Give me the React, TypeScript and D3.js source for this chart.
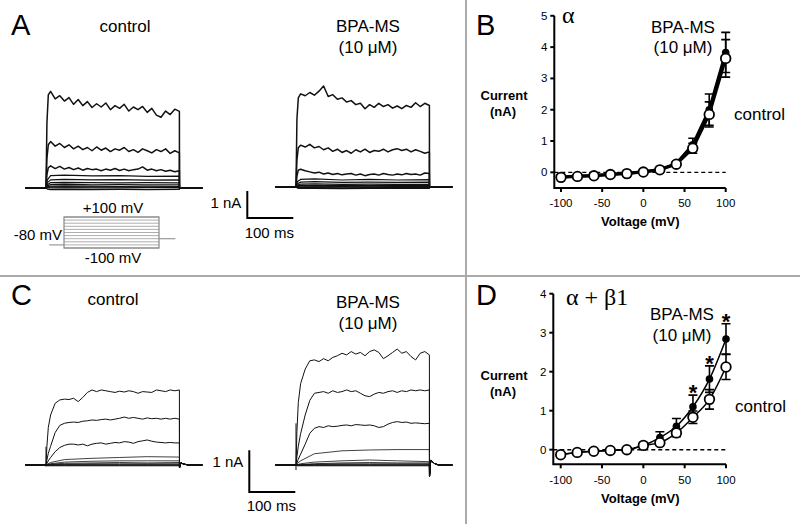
import React from 'react';
import * as d3 from 'd3';

const W = 800;
const H = 524;
const SANS = '"Liberation Sans", Arial, sans-serif';
const SERIF = '"Liberation Serif", "Times New Roman", serif';

// ---- I-V data (panels B and D) ----
const voltages = [-100, -80, -60, -40, -20, 0, 20, 40, 60, 80, 100];
const xTicks = [-100, -50, 0, 50, 100];

const bCtrlMean = [-0.16, -0.13, -0.11, -0.07, -0.04, 0.01, 0.08, 0.26, 0.77, 1.85, 3.64];
const bCtrlSem = [0.02, 0.02, 0.02, 0.02, 0.02, 0.02, 0.03, 0.05, 0.16, 0.4, 0.6];
const bBpaMean = [-0.15, -0.12, -0.1, -0.06, -0.03, 0.02, 0.09, 0.28, 0.88, 2.0, 3.83];
const bBpaSem = [0.02, 0.02, 0.02, 0.02, 0.02, 0.02, 0.03, 0.05, 0.21, 0.5, 0.64];
const bYTicks = [0, 1, 2, 3, 4, 5];

const dCtrlMean = [-0.13, -0.07, -0.04, -0.02, 0, 0.11, 0.18, 0.43, 0.83, 1.29, 2.12];
const dCtrlSem = [0.02, 0.02, 0.02, 0.02, 0.02, 0.03, 0.05, 0.1, 0.16, 0.25, 0.32];
const dBpaMean = [-0.12, -0.07, -0.04, -0.02, 0, 0.11, 0.31, 0.6, 1.1, 1.81, 2.84];
const dBpaSem = [0.02, 0.02, 0.02, 0.02, 0.02, 0.03, 0.15, 0.2, 0.3, 0.34, 0.39];
const dYTicks = [0, 1, 2, 3, 4];
const dStars = [60, 80, 100];

// ---- current traces (panels A and C), nA vs ms ----
const tFine = [0, 2, 5, 10, 20, 30, 40, 50, 60, 70, 80, 90, 100, 110, 120, 130, 140, 150, 160, 170, 180, 190, 200, 210, 220, 230, 240, 250, 260, 270, 280, 290];
const tCoarse = [0, 3, 10, 40, 100, 160, 220, 290];
const tTail = [290.2, 293, 300, 310];
const tStart = -45;
const tStop = 340;

// A control: +100, +80, +60 mV
const aCtrlFine = [
  [0, 2.4, 3.45, 3.58, 3.3, 3.42, 3.22, 3.35, 3.1, 3.28, 3.05, 3.2, 2.98, 3.12, 3.0, 3.15, 2.9, 3.05, 2.95, 3.1, 2.85, 3.0, 2.9, 3.02, 2.8, 2.95, 2.7, 2.62, 2.85, 2.72, 2.92, 2.84],
  [0, 1.1, 1.6, 1.72, 1.55, 1.65, 1.5, 1.6, 1.45, 1.55, 1.42, 1.5, 1.38, 1.52, 1.4, 1.48, 1.35, 1.45, 1.4, 1.5, 1.35, 1.42, 1.32, 1.45, 1.38, 1.3, 1.42, 1.35, 1.45, 1.28, 1.38, 1.3],
  [0, 0.5, 0.75, 0.82, 0.72, 0.8, 0.7, 0.76, 0.68, 0.74, 0.66, 0.72, 0.68, 0.7, 0.64, 0.7, 0.66, 0.72, 0.65, 0.7, 0.64, 0.68, 0.7, 0.78, 0.66, 0.7, 0.64, 0.68, 0.62, 0.66, 0.6, 0.64],
];
// A control: +40 ... -100 mV
const aCtrlCoarse = [
  [0, 0.3, 0.46, 0.48, 0.45, 0.46, 0.43, 0.44],
  [0, 0.2, 0.3, 0.32, 0.3, 0.31, 0.29, 0.3],
  [0, 0.12, 0.2, 0.21, 0.2, 0.19, 0.2, 0.19],
  [0, 0.08, 0.13, 0.14, 0.12, 0.13, 0.12, 0.12],
  [0, 0.04, 0.07, 0.08, 0.07, 0.06, 0.07, 0.06],
  [0, 0.02, 0.03, 0.04, 0.03, 0.03, 0.02, 0.03],
  [0, 0, 0, 0.01, 0, 0, 0.01, 0],
  [0, -0.04, -0.06, -0.05, -0.06, -0.05, -0.06, -0.05],
];
const aBpaFine = [
  [0, 2.5, 3.3, 3.45, 3.38, 3.5, 3.4, 3.55, 3.74, 3.35, 3.42, 3.25, 3.3, 3.15, 3.2, 3.05, 3.1, 2.9, 3.05, 2.95, 3.1, 2.98, 3.05, 2.92, 3.0, 2.9, 3.02, 2.95, 3.12, 2.98, 3.1, 3.02],
  [0, 1.0, 1.45, 1.55, 1.48, 1.58, 1.45, 1.5, 1.38, 1.45, 1.32, 1.4, 1.28, 1.35, 1.25, 1.38, 1.3, 1.4, 1.28, 1.35, 1.32, 1.4, 1.3, 1.38, 1.42, 1.35, 1.4, 1.3, 1.38, 1.32, 1.25, 1.3],
  [0, 0.4, 0.62, 0.66, 0.6, 0.56, 0.52, 0.55, 0.48, 0.52, 0.46, 0.5, 0.45, 0.48, 0.5, 0.44, 0.48, 0.42, 0.46, 0.48, 0.44, 0.5, 0.46, 0.44, 0.48, 0.45, 0.5, 0.46, 0.48, 0.44, 0.52, 0.5],
];
const aBpaCoarse = [
  [0, 0.2, 0.28, 0.3, 0.26, 0.28, 0.26, 0.27],
  [0, 0.12, 0.18, 0.2, 0.17, 0.18, 0.17, 0.18],
  [0, 0.07, 0.11, 0.12, 0.1, 0.11, 0.1, 0.1],
  [0, 0.04, 0.06, 0.07, 0.06, 0.05, 0.06, 0.06],
  [0, 0.02, 0.03, 0.03, 0.02, 0.03, 0.02, 0.03],
  [0, 0, 0, 0.01, 0, 0, 0, 0],
  [0, -0.02, -0.02, -0.02, -0.03, -0.02, -0.02, -0.02],
  [0, -0.04, -0.05, -0.05, -0.06, -0.05, -0.05, -0.05],
];
const aTail = [0, 0, 0, 0];

const cCtrlFine = [
  [0, 0.45, 0.9, 1.2, 1.48, 1.56, 1.58, 1.57, 1.6, 1.52, 1.62, 1.74, 1.8, 1.76, 1.8, 1.78, 1.76, 1.74, 1.77, 1.75, 1.78, 1.76, 1.72, 1.76, 1.75, 1.74, 1.8, 1.78, 1.76, 1.8, 1.78, 1.8],
  [0, 0.12, 0.28, 0.45, 0.78, 0.95, 1.0, 1.02, 1.03, 1.02, 1.05, 1.06, 1.08, 1.07, 1.09, 1.1, 1.08, 1.1, 1.12, 1.15, 1.12, 1.14, 1.12, 1.1, 1.13, 1.11, 1.12, 1.1, 1.12, 1.1, 1.12, 1.1],
  [0, 0.04, 0.1, 0.18, 0.32, 0.42, 0.47, 0.5, 0.5, 0.48, 0.5, 0.46, 0.5, 0.52, 0.53, 0.5, 0.52, 0.54, 0.53, 0.56, 0.55, 0.52, 0.56, 0.58, 0.6, 0.57, 0.55, 0.54, 0.53, 0.54, 0.53, 0.53],
];
const cCtrlCoarse = [
  [0, 0.02, 0.06, 0.13, 0.16, 0.18, 0.2, 0.19],
  [0, 0.01, 0.03, 0.07, 0.09, 0.1, 0.1, 0.1],
  [0, 0.01, 0.02, 0.04, 0.05, 0.06, 0.05, 0.06],
  [0, 0, 0.01, 0.02, 0.03, 0.03, 0.03, 0.03],
  [0, 0, 0, 0.01, 0.01, 0.01, 0.01, 0.01],
  [0, 0, 0, 0, 0, 0, 0, 0],
  [0, -0.01, -0.01, -0.01, -0.01, -0.01, -0.01, -0.01],
  [0, -0.02, -0.02, -0.02, -0.02, -0.02, -0.02, -0.02],
];
const cCtrlTail = [-0.07, 0.05, 0.02, 0];
const cCtrlSpike = [0.44, -0.04];

const cBpaFine = [
  [0, 0.8, 1.5, 1.95, 2.3, 2.5, 2.52, 2.48, 2.55, 2.5, 2.58, 2.62, 2.68, 2.64, 2.72, 2.66, 2.7, 2.62, 2.72, 2.76, 2.7, 2.55, 2.62, 2.7, 2.78, 2.68, 2.72, 2.6, 2.52, 2.68, 2.72, 2.64],
  [0, 0.2, 0.45, 0.75, 1.2, 1.55, 1.72, 1.74, 1.76, 1.72, 1.78, 1.74, 1.76, 1.8, 1.76, 1.78, 1.72, 1.66, 1.64, 1.7, 1.74, 1.72, 1.76, 1.78, 1.74, 1.78, 1.76, 1.8, 1.78, 1.8, 1.78, 1.8],
  [0, 0.05, 0.14, 0.26, 0.5, 0.76, 0.88, 0.92, 0.9, 0.94, 0.92, 0.93, 0.95, 0.96, 0.94, 0.97, 0.96, 0.95, 0.96, 0.94, 0.9, 0.92, 0.98, 1.02, 1.04, 1.02, 1.03, 1.0, 1.01, 1.0, 0.99, 1.0],
];
const cBpaCoarse = [
  [0, 0.04, 0.1, 0.27, 0.34, 0.36, 0.37, 0.37],
  [0, 0.01, 0.03, 0.07, 0.1, 0.12, 0.1, 0.08],
  [0, 0, 0.01, 0.03, 0.05, 0.06, 0.05, 0.05],
  [0, 0, 0, 0.02, 0.03, 0.03, 0.03, 0.03],
  [0, 0, 0, 0.01, 0.01, 0.01, 0.01, 0.01],
  [0, 0, 0, 0, 0, 0, 0, 0],
  [0, -0.01, -0.01, -0.01, -0.01, -0.01, -0.01, -0.01],
  [0, -0.02, -0.02, -0.02, -0.02, -0.02, -0.02, -0.02],
];
const cBpaTail = [-0.28, 0.12, 0.04, 0];
const cBpaSpike = [1.0, -0.12];

// voltage protocol
const holdV = -80;
const afterV = -40;

type Pt = [number, number];

function tracePoints(times: number[], vals: number[], tail: number[]): Pt[] {
  const pts: Pt[] = [[tStart, 0], [0, 0]];
  times.forEach((t, i) => pts.push([t, vals[i]]));
  tTail.forEach((t, i) => pts.push([t, tail[i]]));
  pts.push([tStop, 0]);
  return pts;
}

interface TraceProps {
  x0: number;
  y0: number;
  pxPerNA: number;
  fine: number[][];
  coarse: number[][];
  tail: number[];
  spike?: number[];
  width: number;
}

function Traces({ x0, y0, pxPerNA, fine, coarse, tail, spike, width }: TraceProps) {
  const x = d3.scaleLinear().domain([0, 100]).range([x0, x0 + 46]);
  const y = d3.scaleLinear().domain([0, 1]).range([y0, y0 - pxPerNA]);
  const line = d3.line<Pt>().x(d => x(d[0])).y(d => y(d[1]));
  return (
    <g fill="none" stroke="#111" strokeLinejoin="round">
      {coarse.map((v, i) => (
        <path key={'c' + i} d={line(tracePoints(tCoarse, v, tail)) || ''} strokeWidth={width * 0.8} />
      ))}
      {fine.map((v, i) => (
        <path key={'f' + i} d={line(tracePoints(tFine, v, tail)) || ''} strokeWidth={width} />
      ))}
      {spike && <line x1={x(0)} x2={x(0)} y1={y(spike[0])} y2={y(spike[1])} strokeWidth={width} />}
    </g>
  );
}

function ScaleBar({ x0, yTop, pxPerNA, labelDy }: { x0: number; yTop: number; pxPerNA: number; labelDy: number }) {
  const y = d3.scaleLinear().domain([1, 0]).range([yTop, yTop + pxPerNA]);
  const t = d3.scaleLinear().domain([0, 100]).range([x0, x0 + 46]);
  return (
    <g fontFamily={SANS} fontSize={15}>
      <path d={`M${t(0)},${y(1)}V${y(0)}H${t(100)}`} fill="none" stroke="#000" strokeWidth={2} />
      <text x={t(0) - 6} y={y(1) + 17} textAnchor="end">1 nA</text>
      <text x={(t(0) + t(100)) / 2 - 1} y={y(0) + labelDy} textAnchor="middle">100 ms</text>
    </g>
  );
}

interface IVProps {
  xRange: [number, number];
  yDomain: [number, number];
  yRange: [number, number];
  yAxisX: number;
  yTicks: number[];
  ctrl: number[];
  ctrlSem: number[];
  bpa: number[];
  bpaSem: number[];
  lineW: number;
  smooth: boolean;
  tickLabelDy: number;
  titleDy: number;
  stars?: number[];
}

function IVPanel(p: IVProps) {
  const x = d3.scaleLinear().domain([-100, 100]).range(p.xRange);
  const y = d3.scaleLinear().domain(p.yDomain).range(p.yRange);
  const axisY = y(p.yDomain[0]);
  const line = d3.line<number>()
    .x((_, i) => x(voltages[i]))
    .y(d => y(d))
    .curve(p.smooth ? d3.curveMonotoneX : d3.curveLinear);
  const cap = 4.5;
  const errBars = (m: number[], s: number[], key: string) => (
    <g key={key} stroke="#000" strokeWidth={1.6}>
      {m.map((v, i) => {
        const cx = x(voltages[i]);
        const hi = y(v + s[i]);
        const lo = y(v - s[i]);
        return (
          <path key={i} d={`M${cx},${hi}V${lo}M${cx - cap},${hi}H${cx + cap}M${cx - cap},${lo}H${cx + cap}`} fill="none" />
        );
      })}
    </g>
  );
  return (
    <g>
      {/* zero line */}
      <line x1={p.yAxisX} x2={x(100)} y1={y(0)} y2={y(0)} stroke="#000" strokeWidth={1.4} strokeDasharray="4,3" />
      {/* axes */}
      <g stroke="#000" strokeWidth={2} fill="none">
        <path d={`M${p.yAxisX},${y(p.yDomain[1])}V${axisY}H${x(100)}`} />
        {p.yTicks.map(t => (
          <line key={t} x1={p.yAxisX - 4} x2={p.yAxisX} y1={y(t)} y2={y(t)} />
        ))}
        {xTicks.map(t => (
          <line key={t} x1={x(t)} x2={x(t)} y1={axisY} y2={axisY + 4} />
        ))}
      </g>
      <g fontFamily={SANS} fontSize={11.5} fill="#000">
        {p.yTicks.map(t => (
          <text key={t} x={p.yAxisX - 7} y={y(t) + 4} textAnchor="end">{t}</text>
        ))}
        {xTicks.map(t => (
          <text key={t} x={x(t)} y={axisY + p.tickLabelDy} textAnchor="middle">{t}</text>
        ))}
      </g>
      <text x={(p.xRange[0] + p.xRange[1]) / 2 - 3} y={axisY + p.titleDy} textAnchor="middle" fontFamily={SANS} fontWeight="bold" fontSize={13}>Voltage (mV)</text>
      {errBars(p.bpa, p.bpaSem, 'eb')}
      {errBars(p.ctrl, p.ctrlSem, 'ec')}
      <path d={line(p.bpa) || ''} fill="none" stroke="#000" strokeWidth={p.lineW} />
      <path d={line(p.ctrl) || ''} fill="none" stroke="#000" strokeWidth={p.lineW} />
      {p.bpa.map((v, i) => (
        <circle key={'b' + i} cx={x(voltages[i])} cy={y(v)} r={3.8} fill="#000" />
      ))}
      {p.ctrl.map((v, i) => (
        <circle key={'o' + i} cx={x(voltages[i])} cy={y(v)} r={4.8} fill="#fff" stroke="#000" strokeWidth={1.8} />
      ))}
      {p.stars && p.stars.map(v => {
        const i = voltages.indexOf(v);
        return (
          <text key={v} x={x(v)} y={y(p.bpa[i] + p.bpaSem[i]) + 5} textAnchor="middle" fontFamily={SANS} fontWeight="bold" fontSize={22}>*</text>
        );
      })}
    </g>
  );
}

export default function App() {
  const protoX = d3.scaleLinear().domain([0, 290]).range([64, 159]);
  const protoY = d3.scaleLinear().domain([-100, 100]).range([248, 217]);
  return (
    <svg width={W} height={H} viewBox={`0 0 ${W} ${H}`} style={{ position: 'absolute', left: 0, top: 0, background: '#fff' }}>
      <rect x={0} y={0} width={W} height={H} fill="#fff" />
      {/* panel separators */}
      <line x1={466} x2={466} y1={0} y2={H} stroke="#aaa" strokeWidth={2} />
      <line x1={0} x2={W} y1={276} y2={276} stroke="#aaa" strokeWidth={2} />

      {/* panel letters */}
      <g fontFamily={SANS} fontSize={29} fill="#000">
        <text x={11} y={35}>A</text>
        <text x={476} y={35}>B</text>
        <text x={11} y={305}>C</text>
        <text x={476} y={305}>D</text>
      </g>

      {/* Panel A */}
      <g fontFamily={SANS} fontSize={17} fill="#000" textAnchor="middle">
        <text x={125} y={32}>control</text>
        <text x={368} y={32}>BPA-MS</text>
        <text x={368} y={53}>(10 μM)</text>
        <text x={113} y={305}>control</text>
        <text x={368} y={308}>BPA-MS</text>
        <text x={368} y={329}>(10 μM)</text>
      </g>
      <Traces x0={46} y0={188} pxPerNA={27} fine={aCtrlFine} coarse={aCtrlCoarse} tail={aTail} width={1.5} />
      <Traces x0={296} y0={187} pxPerNA={27} fine={aBpaFine} coarse={aBpaCoarse} tail={aTail} width={1.5} />
      <ScaleBar x0={247.3} yTop={191} pxPerNA={27} labelDy={20} />

      {/* voltage protocol */}
      <g stroke="#999" fill="none">
        {voltages.map(v => (
          <line key={v} x1={protoX(0)} x2={protoX(290)} y1={protoY(v)} y2={protoY(v)} strokeWidth={0.8} />
        ))}
        <rect x={protoX(0)} y={protoY(100)} width={protoX(290) - protoX(0)} height={protoY(-100) - protoY(100)} strokeWidth={1.2} stroke="#888" />
        <line x1={protoX(tStart)} x2={protoX(0)} y1={protoY(holdV)} y2={protoY(holdV)} strokeWidth={1.2} />
        <line x1={protoX(290)} x2={protoX(tStop)} y1={protoY(afterV)} y2={protoY(afterV)} strokeWidth={1.2} />
      </g>
      <g fontFamily={SANS} fontSize={15} fill="#000">
        <text x={113} y={213} textAnchor="middle">+100 mV</text>
        <text x={62} y={240} textAnchor="end">-80 mV</text>
        <text x={113} y={263} textAnchor="middle">-100 mV</text>
      </g>

      {/* Panel C */}
      <Traces x0={46} y0={465} pxPerNA={41.7} fine={cCtrlFine} coarse={cCtrlCoarse} tail={cCtrlTail} spike={cCtrlSpike} width={1} />
      <Traces x0={296} y0={465} pxPerNA={41.7} fine={cBpaFine} coarse={cBpaCoarse} tail={cBpaTail} spike={cBpaSpike} width={1} />
      <ScaleBar x0={249.3} yTop={450.3} pxPerNA={41.7} labelDy={19} />

      {/* Panel B */}
      <IVPanel
        xRange={[561, 725.7]}
        yDomain={[-0.5, 5]}
        yRange={[188, 15.8]}
        yAxisX={554.3}
        yTicks={bYTicks}
        ctrl={bCtrlMean}
        ctrlSem={bCtrlSem}
        bpa={bBpaMean}
        bpaSem={bBpaSem}
        lineW={3}
        smooth={false}
        tickLabelDy={19}
        titleDy={38}
      />
      <g fontFamily={SANS} fontWeight="bold" fontSize={13} textAnchor="middle">
        <text x={504} y={100}>Current</text>
        <text x={503} y={116}>(nA)</text>
        <text x={504} y={380}>Current</text>
        <text x={503} y={396}>(nA)</text>
      </g>
      <text x={562} y={23} fontFamily={SERIF} fontSize={24}>α</text>
      <g fontFamily={SANS} fontSize={17} fill="#000">
        <text x={683} y={33} textAnchor="middle">BPA-MS</text>
        <text x={683} y={53} textAnchor="middle">(10 μM)</text>
        <text x={734} y={120}>control</text>
      </g>

      {/* Panel D */}
      <IVPanel
        xRange={[560.7, 726]}
        yDomain={[-0.375, 4]}
        yRange={[464.3, 293.7]}
        yAxisX={553.3}
        yTicks={dYTicks}
        ctrl={dCtrlMean}
        ctrlSem={dCtrlSem}
        bpa={dBpaMean}
        bpaSem={dBpaSem}
        lineW={1.5}
        smooth={true}
        tickLabelDy={20}
        titleDy={39}
        stars={dStars}
      />
      <text x={566} y={305} fontFamily={SERIF} fontSize={24}>α + β1</text>
      <g fontFamily={SANS} fontSize={17} fill="#000">
        <text x={682} y={320} textAnchor="middle">BPA-MS</text>
        <text x={682} y={341} textAnchor="middle">(10 μM)</text>
        <text x={735} y={412}>control</text>
      </g>
    </svg>
  );
}
